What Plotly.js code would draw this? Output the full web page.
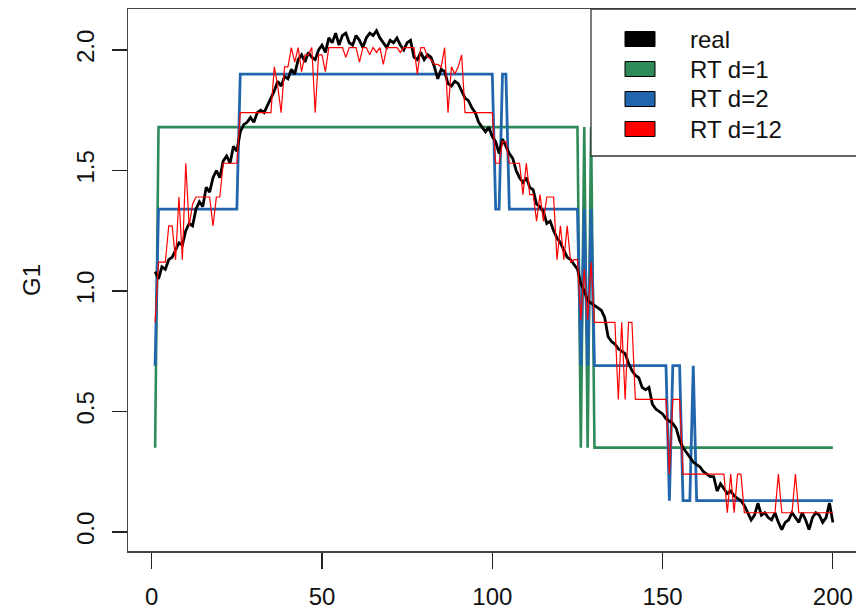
<!DOCTYPE html>
<html><head><meta charset="utf-8">
<script src="https://cdn.plot.ly/plotly-3.0.1.min.js"></script>
<style>html,body{margin:0;padding:0;overflow:hidden;background:#fff;width:856px;height:610px}#chart{width:862px;height:610px}</style>
</head><body><div id="chart"></div><script>
// ---- data (index 1..200) ----
const real = [
1.08,1.05,1.10,1.09,1.13,1.14,1.17,1.20,1.19,1.25,
1.28,1.27,1.34,1.37,1.35,1.43,1.41,1.47,1.50,1.47,
1.54,1.56,1.53,1.60,1.58,1.66,1.69,1.70,1.72,1.70,
1.74,1.75,1.74,1.77,1.80,1.83,1.87,1.85,1.89,1.88,
1.92,1.90,1.96,1.98,1.95,1.99,1.97,1.96,2.00,2.02,
1.99,2.05,2.03,2.07,2.02,2.06,2.07,2.03,2.02,2.06,
2.04,2.01,2.05,2.07,2.06,2.08,2.05,2.03,2.01,2.04,
2.03,2.05,2.02,2.00,2.03,2.04,1.97,1.96,1.99,1.96,
1.98,1.97,1.93,1.88,1.92,1.91,1.86,1.85,1.87,1.86,
1.83,1.80,1.79,1.76,1.74,1.70,1.68,1.66,1.68,1.64,
1.62,1.57,1.63,1.60,1.57,1.55,1.50,1.47,1.45,1.47,
1.43,1.42,1.36,1.35,1.33,1.28,1.29,1.25,1.22,1.20,
1.17,1.14,1.13,1.11,1.09,1.03,1.00,0.96,0.95,0.94,
0.93,0.92,0.89,0.81,0.79,0.78,0.76,0.75,0.74,0.70,
0.67,0.65,0.64,0.60,0.59,0.60,0.53,0.51,0.50,0.49,
0.47,0.46,0.45,0.43,0.38,0.35,0.33,0.31,0.29,0.28,
0.27,0.25,0.24,0.23,0.23,0.17,0.20,0.18,0.16,0.17,
0.15,0.14,0.13,0.11,0.08,0.05,0.07,0.12,0.07,0.08,
0.06,0.05,0.08,0.04,0.01,0.04,0.05,0.08,0.06,0.04,
0.08,0.05,0.01,0.06,0.08,0.07,0.04,0.06,0.12,0.04];

const rtD1 = [
0.35,1.68,1.68,1.68,1.68,1.68,1.68,1.68,1.68,1.68,
1.68,1.68,1.68,1.68,1.68,1.68,1.68,1.68,1.68,1.68,
1.68,1.68,1.68,1.68,1.68,1.68,1.68,1.68,1.68,1.68,
1.68,1.68,1.68,1.68,1.68,1.68,1.68,1.68,1.68,1.68,
1.68,1.68,1.68,1.68,1.68,1.68,1.68,1.68,1.68,1.68,
1.68,1.68,1.68,1.68,1.68,1.68,1.68,1.68,1.68,1.68,
1.68,1.68,1.68,1.68,1.68,1.68,1.68,1.68,1.68,1.68,
1.68,1.68,1.68,1.68,1.68,1.68,1.68,1.68,1.68,1.68,
1.68,1.68,1.68,1.68,1.68,1.68,1.68,1.68,1.68,1.68,
1.68,1.68,1.68,1.68,1.68,1.68,1.68,1.68,1.68,1.68,
1.68,1.68,1.68,1.68,1.68,1.68,1.68,1.68,1.68,1.68,
1.68,1.68,1.68,1.68,1.68,1.68,1.68,1.68,1.68,1.68,
1.68,1.68,1.68,1.68,1.68,0.35,1.68,0.35,1.68,0.35,
0.35,0.35,0.35,0.35,0.35,0.35,0.35,0.35,0.35,0.35,
0.35,0.35,0.35,0.35,0.35,0.35,0.35,0.35,0.35,0.35,
0.35,0.35,0.35,0.35,0.35,0.35,0.35,0.35,0.35,0.35,
0.35,0.35,0.35,0.35,0.35,0.35,0.35,0.35,0.35,0.35,
0.35,0.35,0.35,0.35,0.35,0.35,0.35,0.35,0.35,0.35,
0.35,0.35,0.35,0.35,0.35,0.35,0.35,0.35,0.35,0.35,
0.35,0.35,0.35,0.35,0.35,0.35,0.35,0.35,0.35,0.35];

const rtD2 = [
0.69,1.34,1.34,1.34,1.34,1.34,1.34,1.34,1.34,1.34,
1.34,1.34,1.34,1.34,1.34,1.34,1.34,1.34,1.34,1.34,
1.34,1.34,1.34,1.34,1.34,1.90,1.90,1.90,1.90,1.90,
1.90,1.90,1.90,1.90,1.90,1.90,1.90,1.90,1.90,1.90,
1.90,1.90,1.90,1.90,1.90,1.90,1.90,1.90,1.90,1.90,
1.90,1.90,1.90,1.90,1.90,1.90,1.90,1.90,1.90,1.90,
1.90,1.90,1.90,1.90,1.90,1.90,1.90,1.90,1.90,1.90,
1.90,1.90,1.90,1.90,1.90,1.90,1.90,1.90,1.90,1.90,
1.90,1.90,1.90,1.90,1.90,1.90,1.90,1.90,1.90,1.90,
1.90,1.90,1.90,1.90,1.90,1.90,1.90,1.90,1.90,1.90,
1.34,1.34,1.90,1.90,1.34,1.34,1.34,1.34,1.34,1.34,
1.34,1.34,1.34,1.34,1.34,1.34,1.34,1.34,1.34,1.34,
1.34,1.34,1.34,1.34,1.34,0.69,1.34,0.69,1.34,0.69,
0.69,0.69,0.69,0.69,0.69,0.69,0.69,0.69,0.69,0.69,
0.69,0.69,0.69,0.69,0.69,0.69,0.69,0.69,0.69,0.69,
0.69,0.13,0.69,0.69,0.69,0.13,0.13,0.13,0.69,0.13,
0.13,0.13,0.13,0.13,0.13,0.13,0.13,0.13,0.13,0.13,
0.13,0.13,0.13,0.13,0.13,0.13,0.13,0.13,0.13,0.13,
0.13,0.13,0.13,0.13,0.13,0.13,0.13,0.13,0.13,0.13,
0.13,0.13,0.13,0.13,0.13,0.13,0.13,0.13,0.13,0.13];

const rtD12 = [
0.87,1.12,1.12,1.12,1.27,1.27,1.13,1.39,1.13,1.53,
1.27,1.36,1.39,1.39,1.39,1.39,1.39,1.27,1.39,1.39,
1.53,1.53,1.53,1.53,1.53,1.74,1.74,1.74,1.74,1.74,
1.74,1.74,1.74,1.74,1.74,1.93,1.85,1.74,1.93,1.93,
2.01,1.95,2.01,1.91,1.98,1.98,2.01,1.74,1.98,1.98,
1.91,2.01,2.01,2.01,2.01,2.01,1.97,2.01,2.01,2.01,
1.95,2.01,2.01,1.98,2.01,1.99,2.01,1.94,2.01,2.01,
2.01,2.01,1.99,2.01,2.01,2.01,2.01,1.90,2.01,2.01,
1.97,1.96,1.94,1.94,1.93,2.01,1.74,1.93,1.90,1.93,
1.98,1.74,1.74,1.74,1.74,1.74,1.74,1.74,1.74,1.74,
1.53,1.53,1.62,1.62,1.53,1.53,1.53,1.53,1.40,1.53,
1.40,1.40,1.29,1.40,1.29,1.39,1.39,1.39,1.13,1.27,
1.13,1.27,1.12,1.13,1.13,0.88,1.09,0.88,1.12,0.87,
0.87,0.87,0.87,0.87,0.87,0.87,0.55,0.87,0.55,0.87,
0.87,0.55,0.55,0.55,0.55,0.55,0.55,0.55,0.55,0.55,
0.55,0.24,0.55,0.55,0.55,0.24,0.24,0.24,0.24,0.24,
0.24,0.24,0.24,0.24,0.24,0.24,0.24,0.24,0.08,0.24,
0.08,0.24,0.24,0.08,0.08,0.08,0.08,0.08,0.08,0.08,
0.08,0.08,0.08,0.24,0.08,0.08,0.08,0.08,0.24,0.08,
0.08,0.08,0.08,0.08,0.08,0.08,0.08,0.08,0.08,0.08];

const seriesNames = ['real','RT d=1','RT d=2','RT d=12'];
const seriesColors = ['#000000','#2E8B57','#2166AC','#FF0000'];
const xTicks = [0,50,100,150,200];
const yTicks = [0,0.5,1,1.5,2];
const yTickText = ['0.0','0.5','1.0','1.5','2.0'];
const yLabel = 'G1';

// ---- drawing ----
const idx = real.map((_, i) => i + 1);
const FONT = 'Liberation Sans, Arial, Helvetica, sans-serif';

const traces = [
  {x: idx, y: rtD1, mode: 'lines', line: {color: seriesColors[1], width: 2.6}, name: seriesNames[1]},
  {x: idx, y: rtD2, mode: 'lines', line: {color: seriesColors[2], width: 2.8}, name: seriesNames[2]},
  {x: idx, y: real, mode: 'lines', line: {color: seriesColors[0], width: 2.8}, name: seriesNames[0]},
  {x: idx, y: rtD12, mode: 'lines', line: {color: seriesColors[3], width: 1.2}, name: seriesNames[3]}
];

// plot area in pixels
const L = 128, T = 9, W = 732, H = 542;
const px = v => (v - L) / W;
const py = v => (T + H - v) / H;

const shapes = [{type: 'rect', xref: 'paper', yref: 'paper', x0: px(591), x1: 1.0, y0: py(156), y1: 1.0,
  line: {color: '#333', width: 1.3}, fillcolor: '#fff', layer: 'above'}];
const annotations = [];
const rowY = [39, 69, 99, 129];
seriesNames.forEach((n, k) => {
  shapes.push({type: 'rect', xref: 'paper', yref: 'paper', x0: px(625), x1: px(655),
    y0: py(rowY[k] + 7.5), y1: py(rowY[k] - 7.5), line: {color: '#000', width: 1}, fillcolor: seriesColors[k], layer: 'above'});
  annotations.push({xref: 'paper', yref: 'paper', x: px(688), y: py(rowY[k]), xanchor: 'left', yanchor: 'middle',
    text: n, showarrow: false, font: {family: FONT, size: 24, color: '#111'}});
});
annotations.push({xref: 'paper', yref: 'paper', x: px(31), y: 0.5, xanchor: 'center', yanchor: 'middle',
  text: yLabel, textangle: -90, showarrow: false, font: {family: FONT, size: 24, color: '#111'}});

const layout = {
  width: 862, height: 610,
  margin: {l: L, r: 862 - L - W, t: T, b: 610 - T - H},
  paper_bgcolor: '#fff', plot_bgcolor: '#fff',
  showlegend: false,
  font: {family: FONT, size: 24, color: '#111'},
  xaxis: {range: [-6.96, 207.96], tickvals: xTicks, ticks: 'outside', ticklen: 16, tickwidth: 1.2, tickcolor: '#222',
    showgrid: false, zeroline: false, showline: true, mirror: true, linecolor: '#444', linewidth: 1.5,
    tickfont: {family: FONT, size: 24, color: '#111'}, ticklabelstandoff: 8},
  yaxis: {range: [-0.0788, 2.170], tickvals: yTicks, ticktext: yTickText, tickangle: -90, ticks: 'outside', ticklen: 15,
    tickwidth: 1.2, tickcolor: '#222', showgrid: false, zeroline: false, showline: true, mirror: true, linecolor: '#444', linewidth: 1.5,
    tickfont: {family: FONT, size: 24, color: '#111'}, ticklabelstandoff: 8},
  shapes: shapes,
  annotations: annotations
};

Plotly.newPlot('chart', traces, layout, {displayModeBar: false, staticPlot: true});
</script></body></html>
